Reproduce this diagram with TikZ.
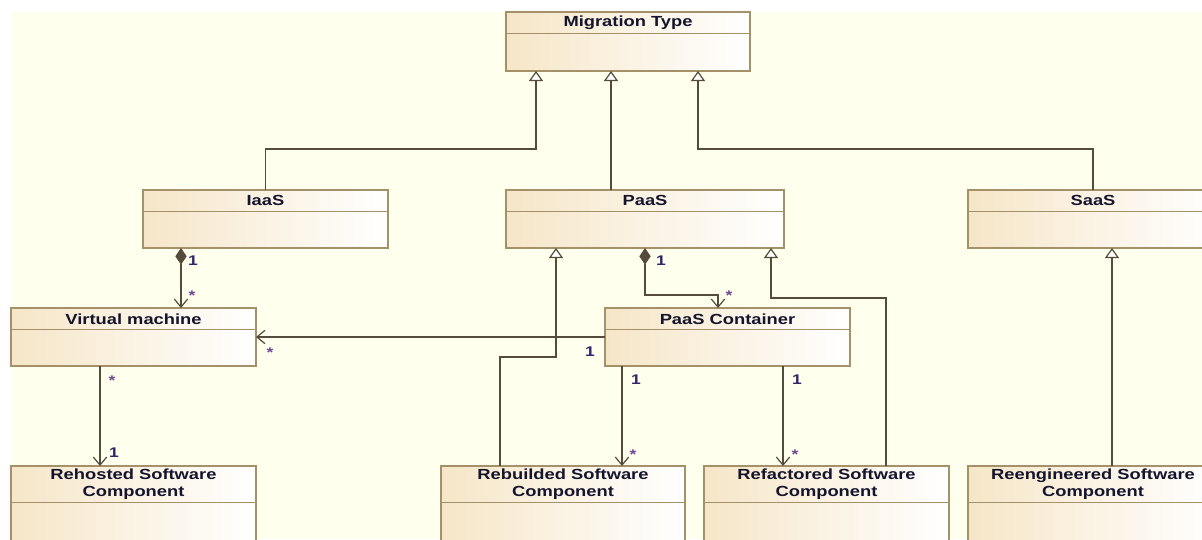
\documentclass[tikz,border=0pt]{standalone}
\usepackage{fontspec}
\newfontfamily\umlfont[FakeStretch=1.25]{Liberation Sans}
\usetikzlibrary{arrows.meta,calc}
\definecolor{canvas}{RGB}{255,255,238}
\definecolor{classtan}{RGB}{246,230,200}
\definecolor{classedge}{RGB}{165,145,105}
\definecolor{linkgray}{RGB}{85,75,60}
\definecolor{multcol}{RGB}{55,35,105}
\definecolor{starcol}{RGB}{110,70,150}
\definecolor{titlecol}{RGB}{20,20,45}
\tikzset{
  classbox/.style={draw=classedge, line width=1pt, left color=classtan, right color=white,
    inner sep=0pt, outer sep=0pt, anchor=north west},
  classtitle/.style={anchor=north, inner sep=0pt, align=center, text=titlecol,
    font=\umlfont\bfseries\fontsize{11}{12.2}\selectfont},
  link/.style={draw=linkgray, line width=0.9pt},
  gen/.style={link, -{Triangle[length=7.5pt,width=10.5pt,fill=white]}},
  assoc/.style={link, -{Straight Barb[length=6pt,width=10pt]}},
  comp/.style={link, {Diamond[length=12.5pt,width=8.5pt]}-{Straight Barb[length=6pt,width=10pt]}},
  mult/.style={font=\umlfont\bfseries\fontsize{10.5}{11}\selectfont, text=multcol, inner sep=0pt},
}
\begin{document}
\begin{tikzpicture}[x=0.75pt,y=-0.75pt]
    \useasboundingbox (0,0) rectangle (1202,539);
    \clip (0,0) rectangle (1202,539);
    \fill[white] (0,0) rectangle (1202,539);
    \fill[canvas] (11,12) rectangle (1202,539);
    % --- classi: nome/x/y/larghezza/altezza/titolo/testo ---
    \foreach \n/\x/\y/\w/\h/\t/\txt in {%
        mig/506/12/244/59/21/Migration Type,
        iaas/143/190/245/58/21/IaaS, paas/506/190/278/58/21/PaaS, saas/968/190/250/58/21/SaaS,
        vm/11/308/245/58/21/Virtual machine, cont/605/308/245/58/21/PaaS Container,
        rehost/11/466/245/90/36/{Rehosted Software\\Component},
        rebuild/441/466/244/90/36/{Rebuilded Software\\Component},
        refact/704/466/245/90/36/{Refactored Software\\Component},
        reeng/968/466/250/90/36/{Reengineered Software\\Component}}{
      \node[classbox, minimum width=\w*0.75pt, minimum height=\h*0.75pt] (\n) at (\x,\y) {};
      \node[classtitle, minimum height=\t*0.75pt] (\n-t) at (\n.north) {\txt};
      \draw[classedge, line width=1pt] (\n-t.south -| \n.west) -- (\n-t.south -| \n.east);
    }
    % --- generalizzazioni ---
    \draw[gen] (iaas.north) -- ++(0,-41) -| ($(mig.south west)+(30,0)$);
    \draw[gen] ($(paas.north west)+(105,0)$) -- ($(mig.south west)+(105,0)$);
    \draw[gen] ($(saas.north west)+(125,0)$) -- ++(0,-41) -| ($(mig.south west)+(192,0)$);
    \draw[gen] ($(rebuild.north west)+(59,0)$) -- ++(0,-109) -| ($(paas.south west)+(50,0)$);
    \draw[gen] ($(refact.north west)+(182,0)$) -- ++(0,-168) -| ($(paas.south west)+(265,0)$);
    \draw[gen] ($(reeng.north west)+(144,0)$) -- ($(saas.south west)+(144,0)$);
    % --- composizioni ---
    \coordinate (iaasdown) at ($(iaas.south west)+(38,0)$);
    \draw[comp] (iaasdown) -- (iaasdown |- vm.north);
    \draw[comp] (paas.south) -- ++(0,47) -| ($(cont.north west)+(113,0)$);
    % --- associazioni ---
    \draw[assoc] (cont.west) -- (vm.east);
    \coordinate (vmdown) at ($(vm.south west)+(89,0)$);
    \draw[assoc] (vmdown) -- (vmdown |- rehost.north);
    \coordinate (contdown1) at ($(cont.south west)+(17,0)$);
    \draw[assoc] (contdown1) -- (contdown1 |- rebuild.north);
    \coordinate (contdown2) at ($(cont.south west)+(178,0)$);
    \draw[assoc] (contdown2) -- (contdown2 |- refact.north);
    % --- molteplicita ---
    \foreach \m/\x/\y/\s in {%
        m1/193/261/1, m3/661/261/1, m5/590/352/1, m8/114/453/1,
        m9/636/380/1, m11/797/380/1}{
      \node[mult] (\m) at (\x,\y) {\s};
    }
    \foreach \m/\x/\y in {m2/192/296, m4/729/296, m6/270/353, m7/112/381, m10/633/455, m12/795/455}{
      \node[mult, text=starcol] (\m) at (\x,\y) {*};
    }
\end{tikzpicture}
\end{document}
